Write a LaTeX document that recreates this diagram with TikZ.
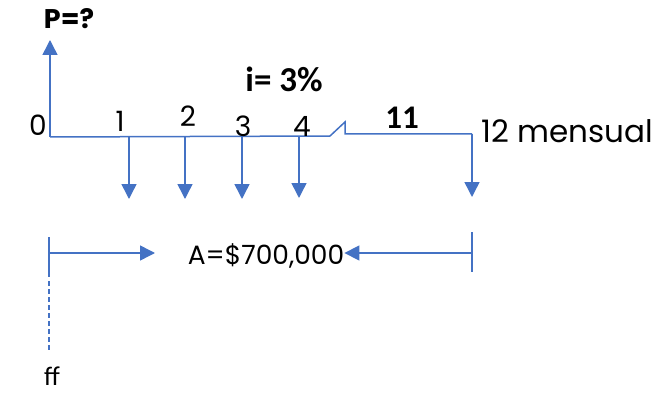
\documentclass[tikz,border=0pt]{standalone}
\usepackage{fontspec}
\setmainfont{Poppins}
\newfontfamily\calfont{Carlito}
\usetikzlibrary{arrows.meta}
\definecolor{axblue}{HTML}{4472C4}
\tikzset{
  ax/.style={draw=axblue, line width=1.5pt},
  arr/.style={ax, -{Triangle[length=15pt,width=15pt]}},
  lbl/.style={inner sep=0pt, font=\fontsize{28}{30}\selectfont},
}
\begin{document}
\begin{tikzpicture}[x=1pt,y=-1pt]
\useasboundingbox (0,0) rectangle (656,393);
% axis points
\coordinate (o) at (50,137);
\coordinate (b1) at (330,136);
\coordinate (b2) at (345,122);
\coordinate (b3) at (345,134);
\coordinate (e) at (472,134);
\coordinate (t1) at (129,137);
\coordinate (t2) at (185,137);
\coordinate (t3) at (242,136);
\coordinate (t4) at (299,136);
\coordinate (d1) at (129,199);
\coordinate (d2) at (185,199);
\coordinate (d3) at (242,199);
\coordinate (d4) at (299,198);
\coordinate (d12) at (472,197);
\coordinate (up) at (50,40);
\draw[ax] (o) -- (b1) -- (b2) -- (b3) -- (e);
\draw[arr] (o) -- (up);
\foreach \k in {1,2,3,4} \draw[arr] (t\k) -- (d\k);
\draw[arr] (e) -- (d12);
% labels
\node[lbl, font=\bfseries\fontsize{27}{29}\selectfont] (P) at (69,19) {P=?};
\node[lbl, font=\calfont\bfseries\fontsize{35}{37}\selectfont] (i) at (284,79) {i= 3\%};
\node[lbl] (l0) at (38,125.5) {0};
\node[lbl] (l1) at (120,121) {1};
\node[lbl] (l2) at (188,116.5) {2};
\node[lbl] (l3) at (243,126.5) {3};
\node[lbl] (l4) at (302,126) {4};
\node[lbl, font=\calfont\bfseries\fontsize{33}{35}\selectfont] (l11) at (402,118) {11};
\node[lbl, font=\fontsize{31}{33}\selectfont, anchor=west] (l12) at (481,131) {12 mensual};
% bottom
\coordinate (s1) at (49,237);
\coordinate (s2) at (49,277);
\coordinate (s3) at (49,281);
\coordinate (s4) at (49,352);
\coordinate (r1) at (472,232);
\coordinate (r2) at (472,272);
\coordinate (la) at (49,253);
\coordinate (ra) at (472,253);
\draw[ax] (s1) -- (s2);
\draw[ax, dash pattern=on 5pt off 3pt] (s3) -- (s4);
\draw[ax] (r1) -- (r2);
\node[lbl, font=\fontsize{26.5}{28}\selectfont] (A) at (266,256) {A=\$700,000};
\coordinate (laend) at (155,253);
\draw[arr] (la) -- (laend);
\draw[arr] (ra) -- (ra -| A.east);
\node[lbl, font=\calfont\fontsize{27}{29}\selectfont] (ff) at (52,376) {ff};
\end{tikzpicture}
\end{document}
